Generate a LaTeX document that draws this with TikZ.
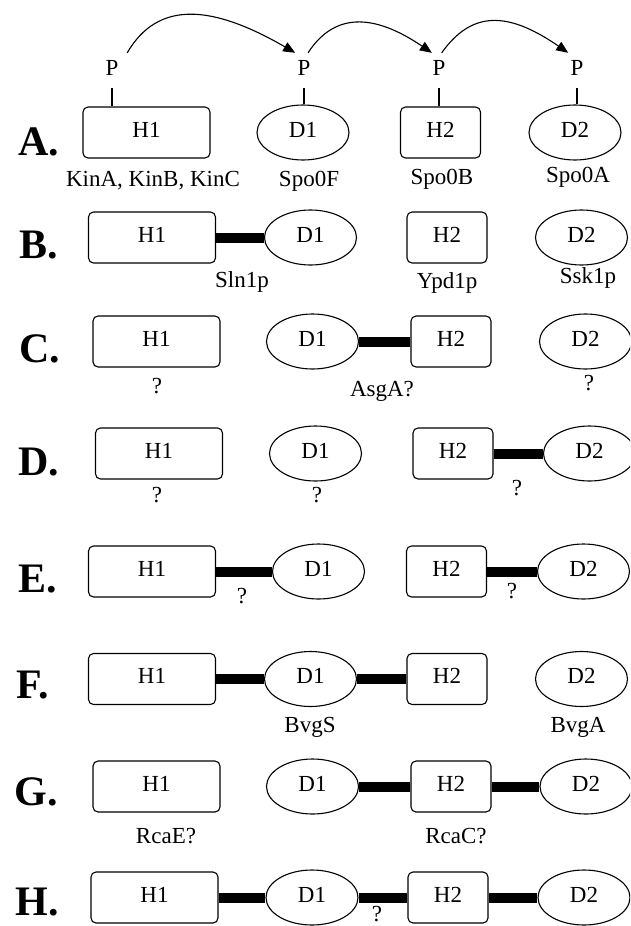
\documentclass[tikz,border=0pt]{standalone}
\usepackage{fontspec}
\setmainfont{Liberation Serif}
\usetikzlibrary{shapes.geometric,arrows.meta}
\begin{document}
\begin{tikzpicture}[x=1pt,y=-1pt,
  every node/.style={font=\fontsize{23}{25}\selectfont},
  protdom/.style={draw, line width=1.1pt, fill=white, inner sep=0pt,
    minimum height=51pt, text height=15pt, text depth=6pt},
  hwide/.style={protdom, rounded corners=5pt, minimum width=127pt},
  hnarrow/.style={protdom, rounded corners=5pt, minimum width=80pt},
  dell/.style={protdom, ellipse, minimum width=92pt, minimum height=55pt},
  link/.style={line width=10pt},
  rowlabel/.style={anchor=base west, font=\fontsize{42}{44}\selectfont\bfseries},
  note/.style={anchor=base},
  pnode/.style={minimum width=32pt, minimum height=30pt, inner sep=0pt},
  stem/.style={line width=1.1pt, shorten <=5pt},
  phos/.style={line width=1.1pt, -{Triangle[length=12pt,width=10pt]}},
]
\useasboundingbox (0,0) rectangle (630,926);
\clip (0,0) rectangle (630,926);
\fill[white] (0,0) rectangle (630,926);

% ---------- A: phosphorelay ----------
\node[rowlabel] (ra) at (15,155) {A.};
\node[hwide]   (h1a) at (146.5,132.5) {H1};
\node[dell]    (d1a) at (303,132.5) {D1};
\node[hnarrow] (h2a) at (440.5,132.5) {H2};
\node[dell]    (d2a) at (575,132.5) {D2};
\node[pnode] (pa1) at (112,68) {P};
\node[pnode] (pa2) at (304,68) {P};
\node[pnode] (pa3) at (439,68) {P};
\node[pnode] (pa4) at (577,68) {P};
\draw[stem] (pa1.south) -- (pa1.south |- h1a.north);
\draw[stem] (pa2.south) -- (pa2.south |- d1a.north);
\draw[stem] (pa3.south) -- (pa3.south |- h2a.north);
\draw[stem] (pa4.south) -- (pa4.south |- d2a.north);
\draw[phos] (pa1.45) .. controls +(31,-53) and +(-83,-48) .. (pa2.120);
\draw[phos] (pa2.75) .. controls +(26,-40) and +(-59,-40) .. (pa3.115);
\draw[phos] (pa3.80) .. controls +(30,-42) and +(-61,-42) .. (pa4.120);
\node[note] (na1) at (153,186) {KinA, KinB, KinC};
\node[note] (na2) at (309,186) {Spo0F};
\node[note] (na3) at (442,184) {Spo0B};
\node[note] (na4) at (578,182) {Spo0A};

% ---------- B ----------
\node[rowlabel] (rb) at (16,258) {B.};
\node[hwide]   (h1b) at (152,237.5) {H1};
\node[dell]    (d1b) at (310.5,237.5) {D1};
\node[hnarrow] (h2b) at (447,237.5) {H2};
\node[dell]    (d2b) at (581.5,237.5) {D2};
\draw[link] (h1b.east) -- (d1b.west);
\node[note] (nb1) at (242,287) {Sln1p};
\node[note] (nb2) at (447,288) {Ypd1p};
\node[note] (nb3) at (588,283) {Ssk1p};

% ---------- C ----------
\node[rowlabel] (rc) at (16,362) {C.};
\node[hwide]   (h1c) at (156.5,341.5) {H1};
\node[dell]    (d1c) at (312.5,341.5) {D1};
\node[hnarrow] (h2c) at (451,341.5) {H2};
\node[dell]    (d2c) at (585.5,341.5) {D2};
\draw[link] (d1c.east) -- (h2c.west);
\node[note] (nc1) at (157,393) {?};
\node[note] (nc2) at (382,396) {AsgA?};
\node[note] (nc3) at (589,390) {?};

% ---------- D ----------
\node[rowlabel] (rd) at (15,475) {D.};
\node[hwide]   (h1d) at (159,453.5) {H1};
\node[dell]    (d1d) at (315.5,453.5) {D1};
\node[hnarrow] (h2d) at (453,453.5) {H2};
\node[dell]    (d2d) at (589.5,453.5) {D2};
\draw[link] (h2d.east) -- (d2d.west);
\node[note] (nd1) at (157,502) {?};
\node[note] (nd2) at (317,502) {?};
\node[note] (nd3) at (517,495) {?};

% ---------- E ----------
\node[rowlabel] (re) at (15,592) {E.};
\node[hwide]   (h1e) at (152,571.5) {H1};
\node[dell]    (d1e) at (318.5,571.5) {D1};
\node[hnarrow] (h2e) at (446.5,571.5) {H2};
\node[dell]    (d2e) at (583.5,571.5) {D2};
\draw[link] (h1e.east) -- (d1e.west);
\draw[link] (h2e.east) -- (d2e.west);
\node[note] (ne1) at (242,603) {?};
\node[note] (ne2) at (512,598) {?};

% ---------- F ----------
\node[rowlabel] (rf) at (13,698) {F.};
\node[hwide]   (h1f) at (152,679) {H1};
\node[dell]    (d1f) at (310.5,679) {D1};
\node[hnarrow] (h2f) at (447,679) {H2};
\node[dell]    (d2f) at (581.5,679) {D2};
\draw[link] (h1f.east) -- (d1f.west);
\draw[link] (d1f.east) -- (h2f.west);
\node[note] (nf1) at (310,732) {BvgS};
\node[note] (nf2) at (578,732) {BvgA};

% ---------- G ----------
\node[rowlabel] (rg) at (11,805) {G.};
\node[hwide]   (h1g) at (156.5,786.5) {H1};
\node[dell]    (d1g) at (312.5,786.5) {D1};
\node[hnarrow] (h2g) at (451,786.5) {H2};
\node[dell]    (d2g) at (586,786.5) {D2};
\draw[link] (d1g.east) -- (h2g.west);
\draw[link] (h2g.east) -- (d2g.west);
\node[note] (ng1) at (166,843) {RcaE?};
\node[note] (ng2) at (456,843) {RcaC?};

% ---------- H ----------
\node[rowlabel] (rh) at (12,915) {H.};
\node[hwide]   (h1h) at (154.5,897.5) {H1};
\node[dell]    (d1h) at (312,897.5) {D1};
\node[hnarrow] (h2h) at (448,897.5) {H2};
\node[dell]    (d2h) at (584,897.5) {D2};
\draw[link] (h1h.east) -- (d1h.west);
\draw[link] (d1h.east) -- (h2h.west);
\draw[link] (h2h.east) -- (d2h.west);
\node[note] (nh1) at (377,921) {?};
\end{tikzpicture}
\end{document}
